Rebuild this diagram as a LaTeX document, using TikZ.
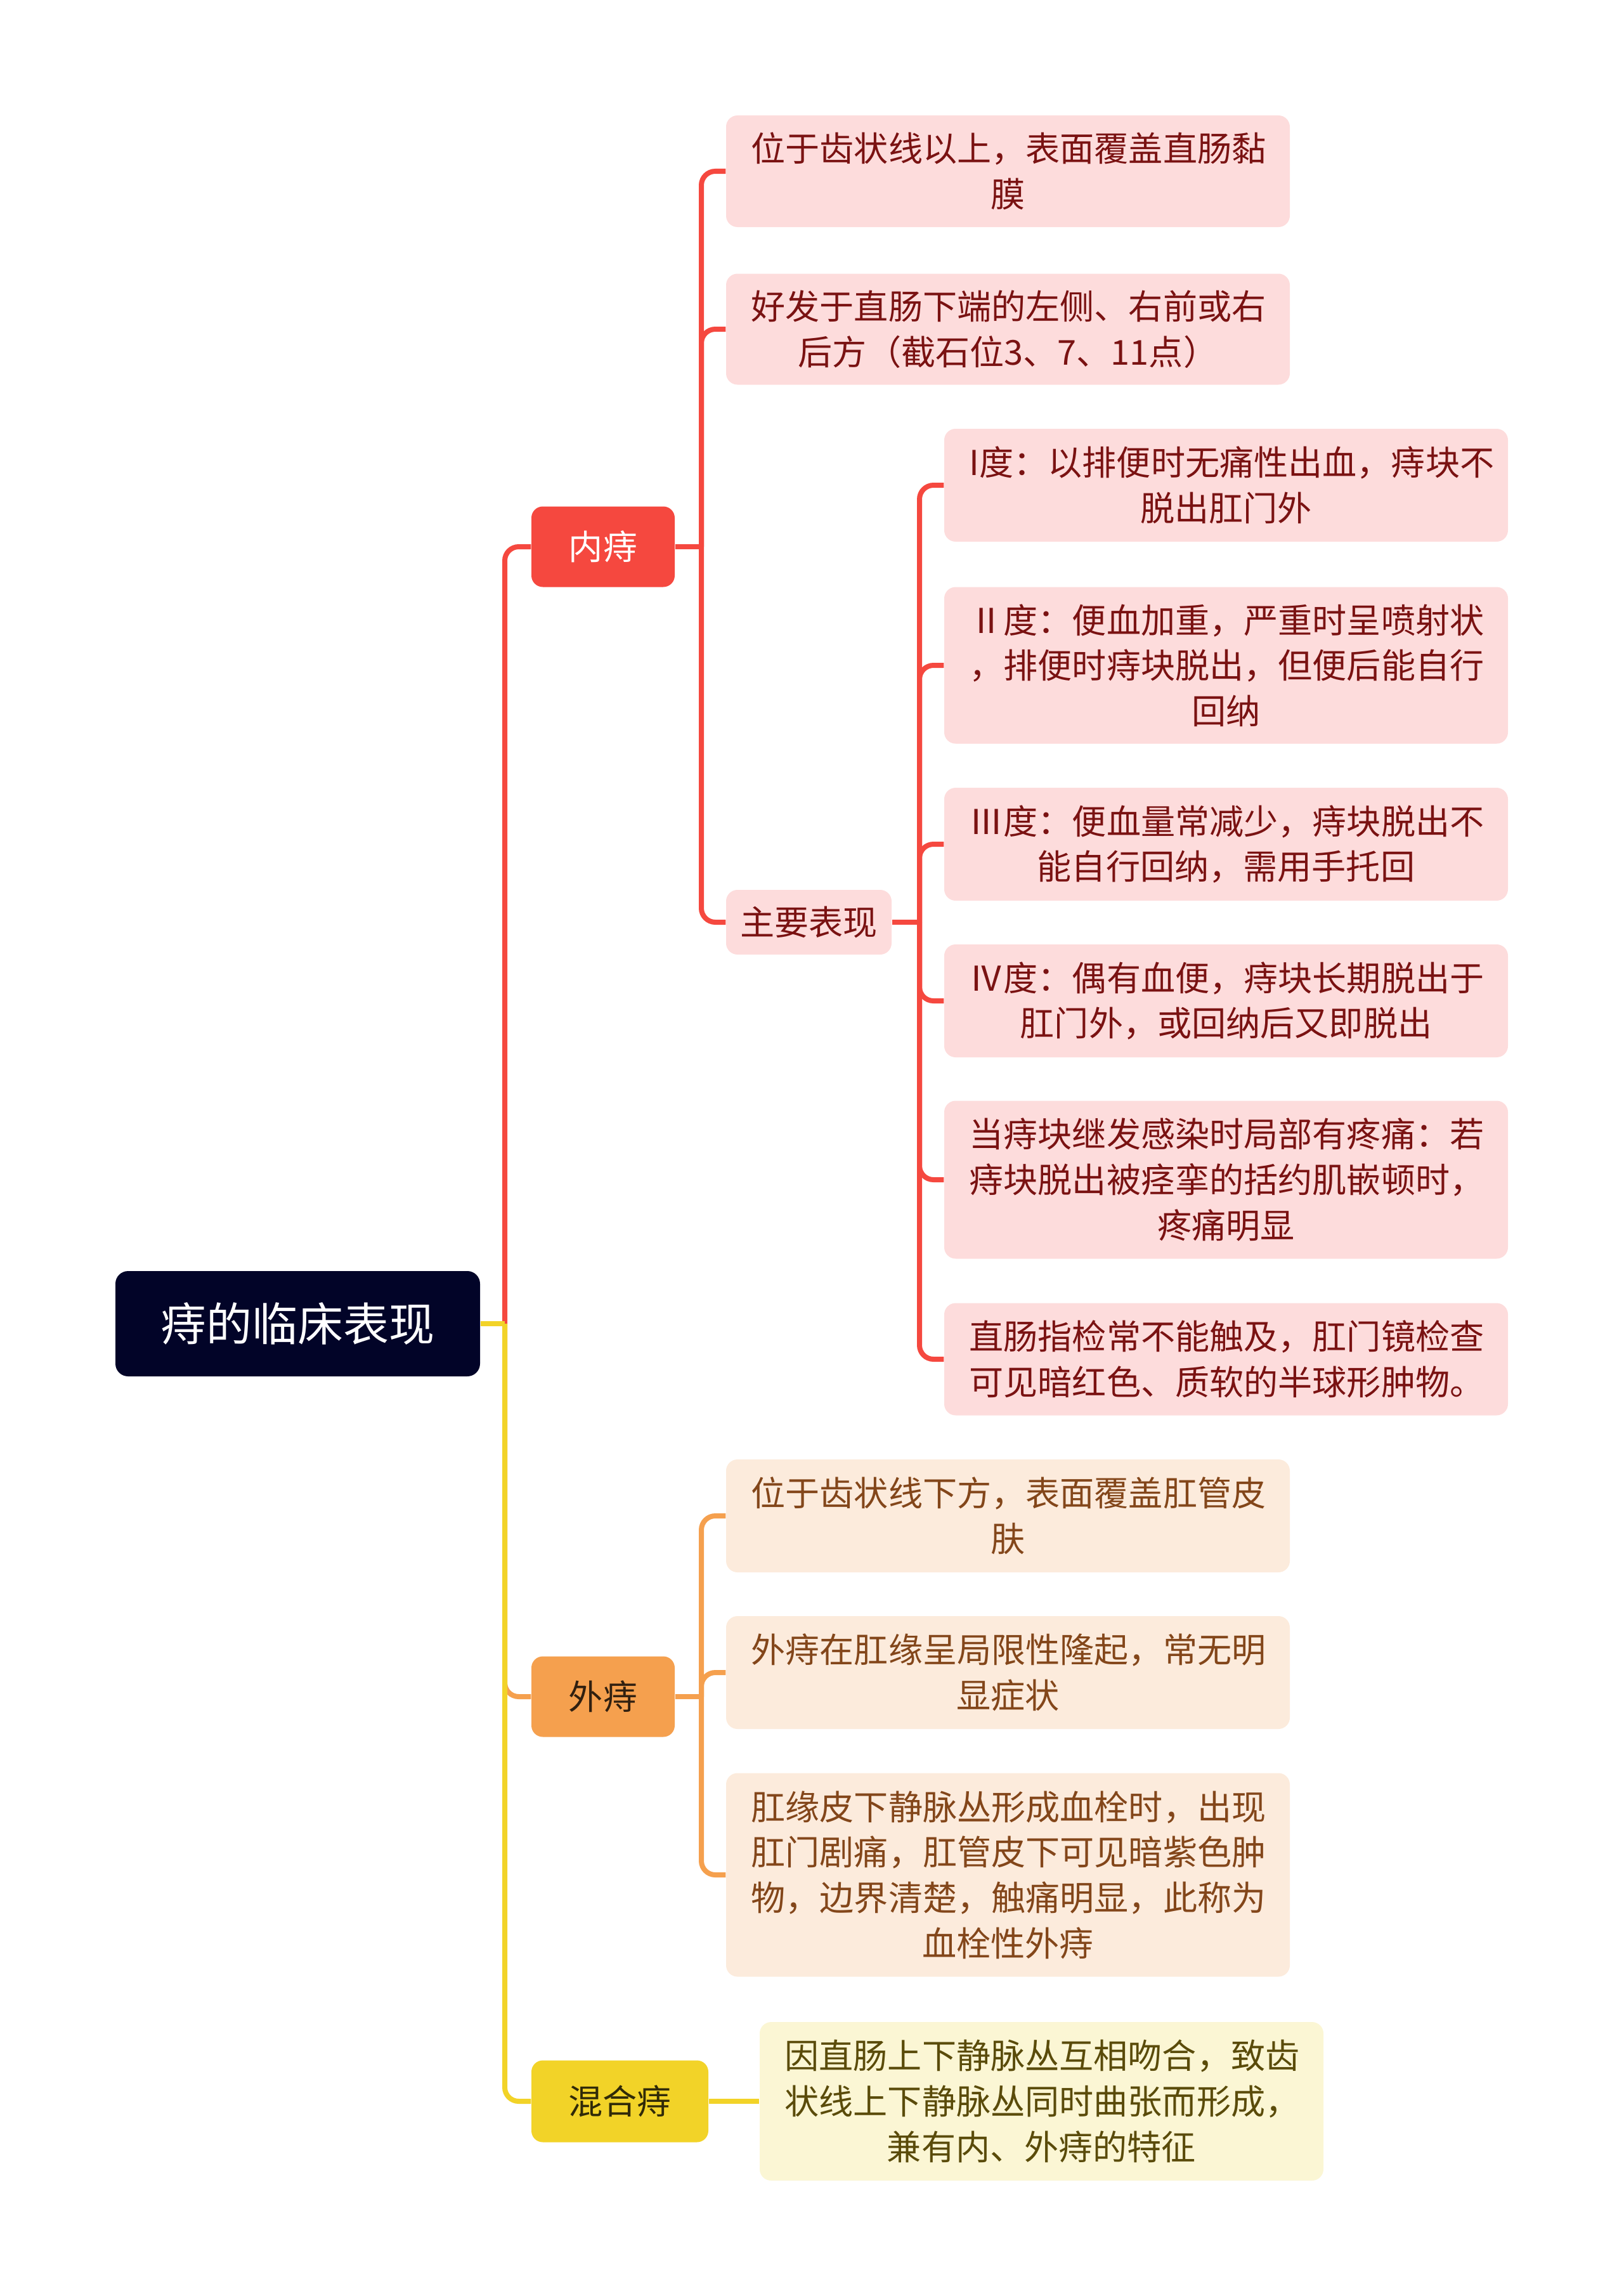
\documentclass[tikz,border=0pt]{standalone}
\usepackage{fontspec}
\setmainfont{Noto Sans CJK SC}
\definecolor{rootfill}{HTML}{020428}
\definecolor{neired}{HTML}{F5483F}
\definecolor{neileaf}{HTML}{FDDCDC}
\definecolor{neitext}{HTML}{7A1212}
\definecolor{waiorange}{HTML}{F5A04E}
\definecolor{waileaf}{HTML}{FCEBDC}
\definecolor{waitext}{HTML}{83461A}
\definecolor{huyellow}{HTML}{F2D328}
\definecolor{huleaf}{HTML}{FBF6D4}
\definecolor{hutext}{HTML}{5A4B0A}
\begin{document}
\begin{tikzpicture}
    \tikzstyle{every node}=[font=\fontsize{15.4pt}{20.4pt}\selectfont, align=center]
    \tikzset{
        root/.style={fill=rootfill, text=white, rounded corners=0.2cm, font=\fontsize{20.5pt}{24pt}\selectfont, minimum width=5.75cm, minimum height=1.66cm},
        topic/.style={rounded corners=0.18cm, minimum width=2.26cm, minimum height=1.27cm},
        leaf/.style={rounded corners=0.18cm, text width=8.1cm, inner xsep=0.395cm},
        link/.style={line width=0.08cm, rounded corners=0.22cm}
        }
    \useasboundingbox (0,0) rectangle (25.6,-36.2);

    %root
    \node (root) [root] at (4.695,-20.87) {痔的临床表现};

    %branches
    \node (neizhi) [topic, fill=neired, text=white] at (9.51,-8.62) {内痔};
    \node (waizhi) [topic, fill=waiorange, text=black!80!waiorange] at (9.51,-26.75) {外痔};
    \node (hunhe) [topic, fill=huyellow, text=black!80!huyellow, minimum width=2.79cm, minimum height=1.29cm] at (9.775,-33.13) {混合痔};

    %internal
    \node (nei1) [leaf, fill=neileaf, text=neitext, minimum height=1.76cm] at (15.895,-2.70) {位于齿状线以上，表面覆盖直肠黏\\膜};
    \node (nei2) [leaf, fill=neileaf, text=neitext, minimum height=1.75cm] at (15.895,-5.19) {好发于直肠下端的左侧、右前或右\\后方（截石位3、7、11点）};
    \node (zhuyao) [topic, fill=neileaf, text=neitext, minimum width=2.61cm, minimum height=1.02cm] at (12.755,-14.54) {主要表现};

    %signs
    \node (deg1) [leaf, fill=neileaf, text=neitext, minimum height=1.78cm] at (19.335,-7.65) {I度：以排便时无痛性出血，痔块不\\脱出肛门外};
    \node (deg2) [leaf, fill=neileaf, text=neitext, minimum height=2.47cm] at (19.335,-10.49) {Ⅱ度：便血加重，严重时呈喷射状\\，排便时痔块脱出，但便后能自行\\回纳};
    \node (deg3) [leaf, fill=neileaf, text=neitext, minimum height=1.78cm] at (19.335,-13.31) {Ⅲ度：便血量常减少，痔块脱出不\\能自行回纳，需用手托回};
    \node (deg4) [leaf, fill=neileaf, text=neitext, minimum height=1.78cm] at (19.335,-15.78) {Ⅳ度：偶有血便，痔块长期脱出于\\肛门外，或回纳后又即脱出};
    \node (pain) [leaf, fill=neileaf, text=neitext, minimum height=2.49cm] at (19.335,-18.60) {当痔块继发感染时局部有疼痛：若\\痔块脱出被痉挛的括约肌嵌顿时，\\疼痛明显};
    \node (exam) [leaf, fill=neileaf, text=neitext, minimum height=1.77cm] at (19.335,-21.43) {直肠指检常不能触及，肛门镜检查\\可见暗红色、质软的半球形肿物。};

    %external
    \node (wai1) [leaf, fill=waileaf, text=waitext, minimum height=1.78cm] at (15.895,-23.90) {位于齿状线下方，表面覆盖肛管皮\\肤};
    \node (wai2) [leaf, fill=waileaf, text=waitext, minimum height=1.78cm] at (15.895,-26.37) {外痔在肛缘呈局限性隆起，常无明\\显症状};
    \node (wai3) [leaf, fill=waileaf, text=waitext, minimum height=3.21cm] at (15.895,-29.56) {肛缘皮下静脉丛形成血栓时，出现\\肛门剧痛，肛管皮下可见暗紫色肿\\物，边界清楚，触痛明显，此称为\\血栓性外痔};

    %mixed
    \node (hun1) [leaf, fill=huleaf, text=hutext, minimum height=2.50cm] at (16.425,-33.13) {因直肠上下静脉丛互相吻合，致齿\\状线上下静脉丛同时曲张而形成，\\兼有内、外痔的特征};

    %junctions
    \coordinate (jroot) at (7.96,-20.87);
    \coordinate (jnei) at (11.06,-8.62);
    \coordinate (jzy) at (14.50,-14.54);
    \coordinate (jwai) at (11.06,-26.75);

    \draw [link, neired] (jroot) |- (neizhi.west);
    \draw [link, waiorange] (jroot) |- (waizhi.west);
    \draw [link, huyellow] (jroot) |- (hunhe.west);
    \draw [link, huyellow] (root.east) -- (jroot);

    \draw [link, neired] (neizhi.east) -- (jnei);
    \foreach \n in {nei1, nei2, zhuyao}
        \draw [link, neired] (jnei) |- (\n.west);

    \draw [link, neired] (zhuyao.east) -- (jzy);
    \foreach \n in {deg1, deg2, deg3, deg4, pain, exam}
        \draw [link, neired] (jzy) |- (\n.west);

    \draw [link, waiorange] (waizhi.east) -- (jwai);
    \foreach \n in {wai1, wai2, wai3}
        \draw [link, waiorange] (jwai) |- (\n.west);

    \draw [link, huyellow] (hunhe.east) -- (hun1.west);
\end{tikzpicture}
\end{document}
